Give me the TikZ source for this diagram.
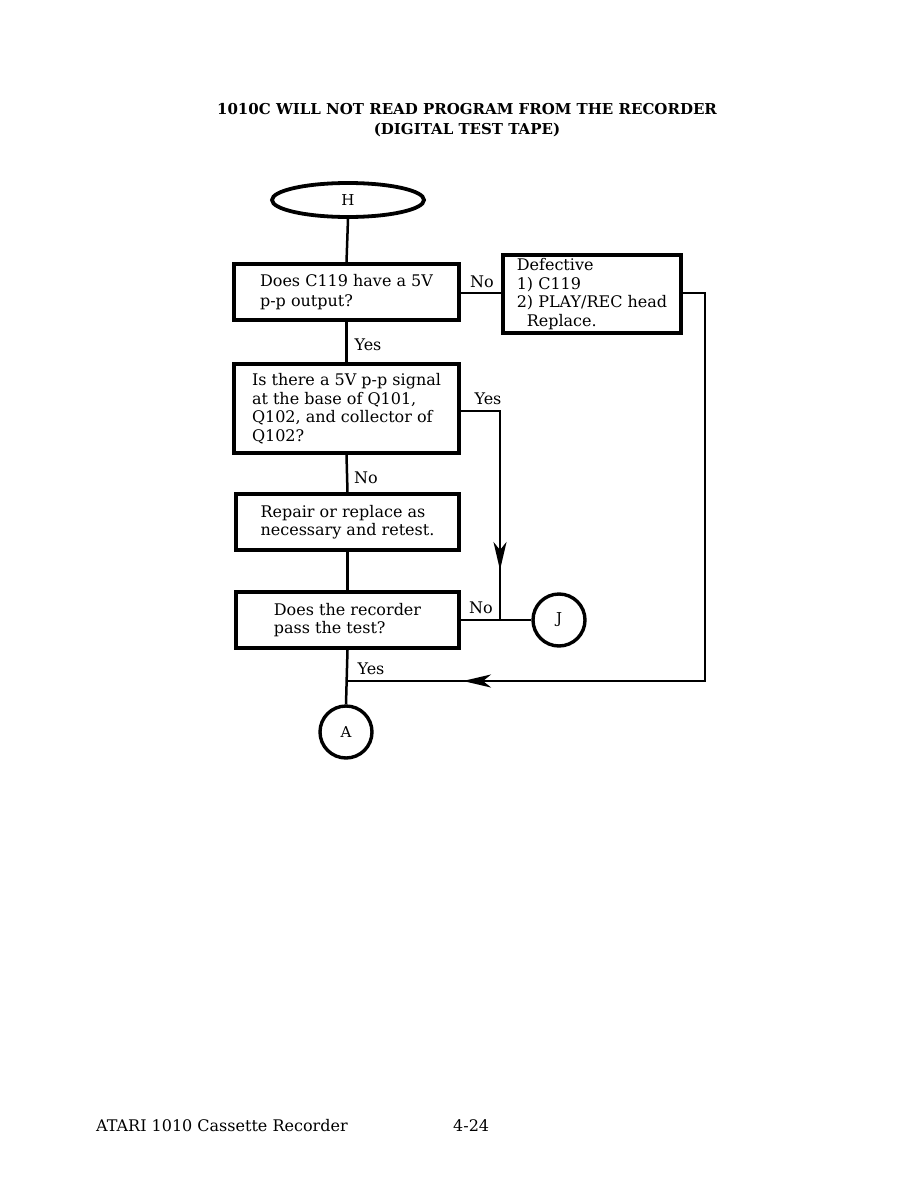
\documentclass[tikz,border=0pt]{standalone}
\usepackage{fontspec}
\setmainfont{DejaVu Serif}
\usetikzlibrary{arrows.meta,positioning,shapes.geometric}
\begin{document}
\begin{tikzpicture}[x=1pt,y=-1pt,
  box/.style={draw,line width=3.6pt,align=left,inner sep=0pt,font=\fontsize{16}{18.5}\selectfont},
  conn/.style={line width=2.5pt},
  lbl/.style={font=\fontsize{16}{18}\selectfont,inner sep=0pt},
  term/.style={draw,circle,line width=3.4pt,minimum size=52pt,inner sep=0pt,font=\fontsize{15}{17}\selectfont},
  tip/.style={-{Stealth[length=28pt,width=13pt,inset=8pt]}}]
\useasboundingbox (0,0) rectangle (918,1188);
% title
\node[font=\bfseries\fontsize{15}{20}\selectfont,align=center] (title) at (467,120) {1010C WILL NOT READ PROGRAM FROM THE RECORDER\\(DIGITAL TEST TAPE)};
% terminals
\node[draw,ellipse,line width=3.8pt,minimum width=152pt,minimum height=34pt,inner sep=0pt,font=\fontsize{15}{17}\selectfont] (H) at (348,200) {H};
\node[term] (J) at (559,620) {J};
\node[term] (A) at (346,732) {A};
% boxes
\node[box,minimum width=225pt,minimum height=56pt,font=\fontsize{16}{20.5}\selectfont] (b1) at (346.5,292) {Does C119 have a 5V\\p-p output?};
\node[box,minimum width=178pt,minimum height=78pt] (b2) at (592,294) {Defective\\1) C119\\2) PLAY/REC head\\\hspace*{10pt}Replace.};
\node[box,minimum width=225pt,minimum height=89pt] (b3) at (346.5,408.5) {Is there a 5V p-p signal\\at the base of Q101,\\Q102, and collector of\\Q102?};
\node[box,minimum width=223pt,minimum height=56pt] (b4) at (347.5,522) {Repair or replace as\\necessary and retest.};
\node[box,minimum width=223pt,minimum height=56pt] (b5) at (347.5,620) {Does the recorder\\pass the test?};
% connector points
\coordinate (c3) at (500,411);
\coordinate (c3a) at (500,570);
\coordinate (c3t) at (500,556);
\coordinate (c3b) at (500,620);
\coordinate (c2a) at (705,293);
\coordinate (c2b) at (705,681);
\coordinate (c2c) at (463,681);
\coordinate (c2t) at (477,681);
\coordinate (c2d) at (346,681);
% connectors
\draw[conn] (H.south) -- (b1.north);
\draw[conn] (b1.east |- 0,293) -- (b2.west |- 0,293);
\draw[conn] (b1.south) -- (b3.north);
\draw[conn] (b3.south) -- (b4.north);
\draw[conn] (b4.south) -- (b5.north);
\draw[conn,tip] (b3.east |- c3) -- (c3) -- (c3a);
\draw[conn] (c3t) -- (c3b);
\draw[conn] (b5.east) -- (J.west);
\draw[conn,tip] (b2.east |- c2a) -- (c2a) -- (c2b) -- (c2c);
\draw[conn] (c2t) -- (c2d);
\draw[conn] (b5.south) -- (A.north);
% labels
\node[lbl] (lno1) at (482,282) {No};
\node[lbl] (lyes1) at (368,345) {Yes};
\node[lbl] (lyes3) at (488,399) {Yes};
\node[lbl] (lno3) at (366,478) {No};
\node[lbl] (lno5) at (481,608) {No};
\node[lbl] (lyes5) at (371,669) {Yes};
% footer
\node[font=\fontsize{16}{18}\selectfont,anchor=west,inner sep=0pt] (foot) at (96,1126) {ATARI 1010 Cassette Recorder};
\node[font=\fontsize{16}{18}\selectfont,anchor=west,inner sep=0pt] (page) at (453,1126) {4-24};
\end{tikzpicture}
\end{document}
